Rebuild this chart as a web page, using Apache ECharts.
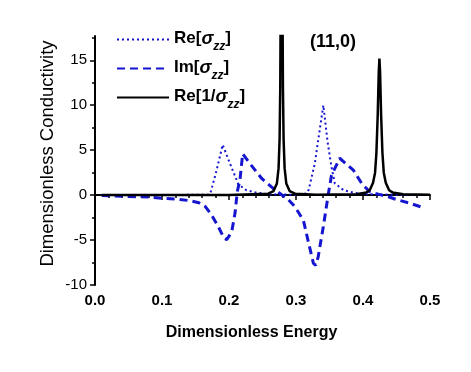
<!DOCTYPE html>
<html>
<head>
<meta charset="utf-8">
<script src="https://cdn.jsdelivr.net/npm/echarts@6/dist/echarts.min.js"></script>
<style>
  html, body { margin: 0; padding: 0; background: #fff; }
  #chart { width: 471px; height: 372px; }
</style>
</head>
<body>
<div id="chart"></div>
<script>
// Re[sigma_zz] (dotted)
const reE = [0.01, 0.10, 0.17, 0.173, 0.1816, 0.1906, 0.2015, 0.214, 0.226, 0.241, 0.26, 0.30, 0.316, 0.319, 0.328, 0.3408, 0.347, 0.353, 0.358, 0.371, 0.386, 0.406, 0.45, 0.492]
const reV = [0, 0, 0.05, 0.4, 2.8, 5.6, 3.5, 1.2, 0.55, 0.26, 0.1, 0.03, 0.2, 0.6, 3.5, 10.0, 6.0, 3.1, 1.3, 0.55, 0.26, 0.1, 0.03, 0.01]

// Im[sigma_zz] (dashed)
const imE = [0.01, 0.05, 0.08, 0.10, 0.12, 0.14, 0.155, 0.165, 0.174, 0.184, 0.1925, 0.1966, 0.204, 0.209, 0.2124, 0.2164, 0.2204, 0.2313, 0.2488, 0.266, 0.281, 0.286, 0.2985, 0.311, 0.32, 0.326, 0.3294, 0.333, 0.3408, 0.348, 0.353, 0.3652, 0.3856, 0.398, 0.41, 0.428, 0.438, 0.45, 0.47, 0.492]
const imV = [-0.05, -0.15, -0.22, -0.35, -0.45, -0.6, -0.85, -1.3, -2.2, -3.5, -4.8, -4.95, -4.1, -2.0, 0.4, 1.7, 4.6, 3.5, 1.85, 0.74, -0.1, -0.3, -1.3, -2.8, -5.7, -7.6, -7.8, -6.9, -3.5, 0, 2.2, 4.1, 2.78, 1.3, 0.37, 0, -0.18, -0.5, -0.9, -1.45]

// Re[1/sigma_zz] (solid)
const invE = [0.01, 0.20, 0.2585, 0.2665, 0.2715, 0.274, 0.2755, 0.2765, 0.2775, 0.278, 0.2785, 0.279, 0.2795, 0.2805, 0.2815, 0.283, 0.2855, 0.2905, 0.2985, 0.33, 0.39, 0.405, 0.41, 0.415, 0.418, 0.420, 0.422, 0.4235, 0.4245, 0.4255, 0.427, 0.429, 0.431, 0.434, 0.439, 0.444, 0.46, 0.5]
const invV = [0, 0.02, 0.16, 0.45, 1.3, 3.0, 6.2, 12, 27, 38, 45, 38, 27, 12, 6.2, 3.0, 1.3, 0.45, 0.16, 0.04, 0.1, 0.3, 0.55, 1.38, 2.5, 4.7, 9.0, 13.7, 15.2, 13.7, 9.0, 4.7, 2.5, 1.38, 0.55, 0.3, 0.1, 0.04]

const yTicks = [-10, -5, 0, 5, 10, 15]
const yMinorTicks = [-7.5, -2.5, 2.5, 7.5, 12.5, 17.5]

const zip = (a, b) => a.map((x, i) => [x, b[i]])

const chart = echarts.init(document.getElementById('chart'))
const blue = '#1515d0'
const font = 'Liberation Sans'
const subRich = {
  b: { fontWeight: 'bold', fontSize: 17, color: '#000', lineHeight: 19, verticalAlign: 'top', fontFamily: font },
  s: { fontWeight: 'bold', fontStyle: 'italic', fontSize: 18, color: '#000', lineHeight: 19, verticalAlign: 'top', fontFamily: font },
  z: { fontWeight: 'bold', fontStyle: 'italic', fontSize: 12, color: '#000', lineHeight: 11, verticalAlign: 'top', padding: [11, 0, 0, 0], fontFamily: font }
}

const option = {
  animation: false,
  grid: { left: 95, right: 41, top: 36, bottom: 87 },
  title: {
    text: '(11,0)',
    left: 305,
    top: 28,
    textStyle: { fontSize: 18, fontWeight: 'bold', color: '#000', fontFamily: font }
  },
  legend: {
    orient: 'vertical',
    left: 111,
    top: 25,
    itemWidth: 52,
    itemHeight: 14,
    itemGap: 6,
    itemStyle: { opacity: 0 },
    data: ['Re[s]', 'Im[s]', 'Re[1/s]'],
    formatter: function (name) {
      if (name === 'Re[s]') return '{b|Re[}{s|σ}{z|zz}{b|]}'
      if (name === 'Im[s]') return '{b|Im[}{s|σ}{z|zz}{b|]}'
      return '{b|Re[1/}{s|σ}{z|zz}{b|]}'
    },
    textStyle: { rich: subRich }
  },
  xAxis: {
    type: 'value',
    min: 0,
    max: 0.5,
    interval: 0.1,
    name: 'Dimensionless Energy',
    nameLocation: 'middle',
    nameGap: 40,
    nameTextStyle: { fontSize: 16, fontWeight: 'bold', color: '#000', fontFamily: font, padding: [0, 22, 0, 0] },
    axisLine: { lineStyle: { color: '#000', width: 2 } },
    axisTick: { length: 5, lineStyle: { color: '#000', width: 1.5 } },
    minorTick: { show: true, splitNumber: 5, length: 3, lineStyle: { color: '#000', width: 1.5 } },
    axisLabel: {
      margin: 8,
      fontSize: 15,
      fontWeight: 'bold',
      color: '#000',
      fontFamily: font,
      formatter: (v) => v.toFixed(1)
    },
    splitLine: { show: false }
  },
  yAxis: [
    {
      type: 'value',
      min: -10,
      max: 17.7,
      interval: 5,
      name: 'Dimensionless Conductivity',
      nameLocation: 'middle',
      nameGap: 38,
      nameMoveOverlap: false,
      nameTextStyle: { fontSize: 18.5, color: '#000', fontFamily: font, padding: [0, 0, 0, 14] },
      axisLine: { lineStyle: { color: '#000', width: 2 } },
      axisTick: { length: 5, customValues: yTicks, lineStyle: { color: '#000', width: 1.5 } },
      axisLabel: {
        margin: 8,
        fontSize: 15,
        color: '#000',
        fontFamily: font,
        customValues: yTicks
      },
      splitLine: { show: false }
    },
    {
      type: 'value',
      min: -10,
      max: 17.7,
      position: 'left',
      axisLine: { show: false },
      axisTick: { length: 3, customValues: yMinorTicks, lineStyle: { color: '#000', width: 1.5 } },
      axisLabel: { show: false },
      splitLine: { show: false }
    }
  ],
  series: [
    {
      name: 'Re[s]',
      type: 'line',
      symbol: 'none',
      data: zip(reE, reV),
      lineStyle: { color: blue, width: 2, type: [2, 3] },
      itemStyle: { color: blue }
    },
    {
      name: 'Im[s]',
      type: 'line',
      symbol: 'none',
      data: zip(imE, imV),
      lineStyle: { color: blue, width: 3, type: [8, 5] },
      itemStyle: { color: blue }
    },
    {
      name: 'Re[1/s]',
      type: 'line',
      symbol: 'none',
      data: zip(invE, invV),
      lineStyle: { color: '#000', width: 2.5 },
      itemStyle: { color: '#000' }
    }
  ]
}
chart.setOption(option)
</script>
</body>
</html>
